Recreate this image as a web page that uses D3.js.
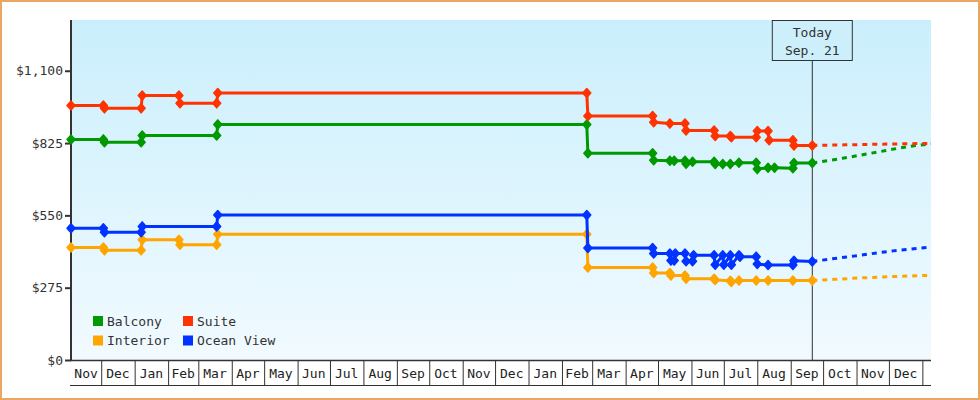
<!DOCTYPE html>
<html>
<head>
<meta charset="utf-8">
<script src="https://cdn.jsdelivr.net/npm/d3@7"></script>
<style>
  html, body { margin: 0; padding: 0; background: #fff; }
  svg { display: block; font-family: "DejaVu Sans Mono", monospace; }
</style>
</head>
<body>
<svg class="chart" width="980" height="400"></svg>
<script>
// ---- data ----
var startDate = "2012-11-03", endDate = "2015-01-09", todayDate = "2014-09-21";
var yTicks = [0, 275, 550, 825, 1100];
var seriesNames = ["Balcony", "Suite", "Interior", "Ocean View"];
var seriesColors = ["#009900", "#ff3300", "#ffa500", "#0033ff"];
var todayLabel = ["Today", "Sep. 21"];

var balcony = [
  ["2012-11-03", 839], ["2012-12-03", 839], ["2012-12-04", 828],
  ["2013-01-07", 828], ["2013-01-08", 854], ["2013-03-18", 854], ["2013-03-19", 896],
  ["2014-02-24", 896], ["2014-02-25", 786], ["2014-04-26", 786], ["2014-04-27", 760],
  ["2014-05-12", 758], ["2014-05-16", 758], ["2014-05-26", 758], ["2014-05-27", 746],
  ["2014-06-02", 754], ["2014-06-22", 754], ["2014-06-23", 745], ["2014-06-30", 745],
  ["2014-07-07", 745], ["2014-07-15", 750], ["2014-07-31", 750], ["2014-08-01", 726],
  ["2014-08-11", 731], ["2014-08-17", 731], ["2014-09-03", 729], ["2014-09-04", 749],
  ["2014-09-21", 749]
];
var suite = [
  ["2012-11-03", 968], ["2012-12-03", 968], ["2012-12-04", 957],
  ["2013-01-07", 957], ["2013-01-08", 1006], ["2013-02-11", 1006], ["2013-02-12", 976],
  ["2013-03-18", 976], ["2013-03-19", 1015], ["2014-02-24", 1015], ["2014-02-25", 928],
  ["2014-04-26", 928], ["2014-04-27", 904], ["2014-05-12", 899], ["2014-05-26", 899],
  ["2014-05-27", 873], ["2014-06-22", 873], ["2014-06-23", 852], ["2014-07-07", 852],
  ["2014-07-08", 847], ["2014-07-31", 847], ["2014-08-01", 871], ["2014-08-11", 871],
  ["2014-08-12", 836], ["2014-09-03", 836], ["2014-09-04", 816], ["2014-09-21", 816]
];
var interior = [
  ["2012-11-03", 428], ["2012-12-03", 428], ["2012-12-04", 417],
  ["2013-01-07", 417], ["2013-01-08", 457], ["2013-02-11", 457], ["2013-02-12", 438],
  ["2013-03-18", 438], ["2013-03-19", 478], ["2014-02-24", 478], ["2014-02-25", 352],
  ["2014-04-26", 352], ["2014-04-27", 331], ["2014-05-12", 331], ["2014-05-13", 321],
  ["2014-05-26", 321], ["2014-05-27", 309], ["2014-06-22", 309], ["2014-06-23", 304],
  ["2014-07-07", 301], ["2014-07-08", 297], ["2014-07-15", 302], ["2014-07-31", 302],
  ["2014-08-11", 302], ["2014-09-03", 302], ["2014-09-21", 302]
];
var oceanView = [
  ["2012-11-03", 501], ["2012-12-03", 501], ["2012-12-04", 486],
  ["2013-01-07", 486], ["2013-01-08", 508], ["2013-03-18", 508], ["2013-03-19", 551],
  ["2014-02-24", 551], ["2014-02-25", 426], ["2014-04-26", 426], ["2014-04-27", 405],
  ["2014-05-12", 405], ["2014-05-13", 378], ["2014-05-16", 378], ["2014-05-17", 405],
  ["2014-05-26", 405], ["2014-05-27", 376], ["2014-06-02", 376], ["2014-06-03", 398],
  ["2014-06-22", 398], ["2014-06-23", 362], ["2014-06-30", 398], ["2014-07-01", 362],
  ["2014-07-07", 398], ["2014-07-08", 362], ["2014-07-15", 398], ["2014-07-16", 393],
  ["2014-07-31", 393], ["2014-08-01", 365], ["2014-08-11", 361], ["2014-09-03", 361],
  ["2014-09-04", 377], ["2014-09-21", 375]
];

// forecast after today (dotted)
var balconyForecast = [["2014-09-21", 749], ["2014-10-19", 767], ["2014-11-22", 792], ["2014-12-23", 814], ["2015-01-09", 822]];
var suiteForecast = [["2014-09-21", 816], ["2014-11-15", 820], ["2015-01-09", 824]];
var interiorForecast = [["2014-09-21", 302], ["2014-11-15", 314], ["2015-01-09", 322]];
var oceanForecast = [["2014-09-21", 375], ["2014-10-29", 395], ["2014-12-05", 415], ["2015-01-09", 429]];

// ---- drawing ----
var parse = d3.timeParse("%Y-%m-%d");
var svg = d3.select("svg.chart");
var plotLeft = 71, plotRight = 931, plotTop = 20, plotBottom = 360;

var x = d3.scaleTime().domain([parse(startDate), parse(endDate)]).range([plotLeft, plotRight]);
var y = d3.scaleLinear().domain([0, 1293]).range([plotBottom, plotTop]);

var defs = svg.append("defs");
var grad = defs.append("linearGradient").attr("id", "bg").attr("x1", 0).attr("y1", 0).attr("x2", 0).attr("y2", 1);
grad.append("stop").attr("offset", "0%").attr("stop-color", "#caeffc");
grad.append("stop").attr("offset", "100%").attr("stop-color", "#f1faff");

// outer frame
svg.append("rect").attr("x", 1).attr("y", 1).attr("width", 978).attr("height", 398)
    .attr("fill", "#fff").attr("stroke", "#e8a862").attr("stroke-width", 2);

svg.append("rect").attr("x", plotLeft).attr("y", plotTop).attr("width", plotRight - plotLeft).attr("height", plotBottom - plotTop)
    .attr("fill", "url(#bg)");

// today marker
var tx = x(parse(todayDate));
svg.append("line").attr("x1", tx).attr("x2", tx).attr("y1", 60).attr("y2", plotBottom)
    .attr("stroke", "#333").attr("stroke-width", 1);
svg.append("rect").attr("x", tx - 40).attr("y", plotTop + 0.5).attr("width", 80).attr("height", 40)
    .attr("fill", "#cdeffc").attr("stroke", "#333").attr("stroke-width", 1);
svg.selectAll("text.today").data(todayLabel).enter().append("text")
    .attr("class", "today")
    .attr("x", tx).attr("y", function(d, i){ return 37 + i*18; })
    .attr("text-anchor", "middle").attr("font-size", 13).attr("fill", "#333")
    .text(function(d){ return d; });

// y axis
var yAxis = svg.append("g").attr("transform", "translate(" + plotLeft + ",0)")
    .call(d3.axisLeft(y).tickValues(yTicks).tickSize(6).tickPadding(2)
        .tickFormat(function(d){ return "$" + d3.format(",")(d); }));
yAxis.select(".domain").attr("d", "M0," + plotTop + "V" + (plotBottom + 1)).attr("stroke", "#333").attr("stroke-width", 2);
yAxis.selectAll(".tick line").attr("stroke", "#333").attr("stroke-width", 2);
yAxis.selectAll(".tick text").attr("font-family", "DejaVu Sans Mono, monospace").attr("font-size", 13).attr("fill", "#333");

// month axis boxes
var months = d3.timeMonth.range(parse(startDate), parse(endDate));
var xAxis = svg.append("g").attr("transform", "translate(0," + plotBottom + ")")
    .call(d3.axisBottom(x).tickValues(months).tickSize(25).tickFormat(""));
xAxis.select(".domain").remove();
xAxis.selectAll(".tick line").attr("stroke", "#333").attr("stroke-width", 1);
svg.append("line").attr("x1", plotLeft).attr("x2", plotRight).attr("y1", plotBottom + 0.5).attr("y2", plotBottom + 0.5)
    .attr("stroke", "#333").attr("stroke-width", 1.5);
svg.append("line").attr("x1", plotLeft - 1).attr("x2", plotRight).attr("y1", plotBottom + 25.5).attr("y2", plotBottom + 25.5)
    .attr("stroke", "#333").attr("stroke-width", 1);

var edges = [parse(startDate)].concat(months).concat([parse(endDate)]);
var cells = [];
for (var i = 0; i < edges.length - 1; i++) {
    if (x(edges[i+1]) - x(edges[i]) > 20) cells.push([edges[i], edges[i+1]]);
}
svg.append("g").selectAll("text").data(cells).enter().append("text")
    .attr("x", function(d){ return (x(d[0]) + x(d[1])) / 2; })
    .attr("y", plotBottom + 18)
    .attr("text-anchor", "middle").attr("font-size", 13).attr("fill", "#222")
    .text(function(d){ return d3.timeFormat("%b")(d[0]); });

// series
var line = d3.line().x(function(d){ return x(parse(d[0])); }).y(function(d){ return y(d[1]); });
var dashLine = d3.line().curve(d3.curveMonotoneX)
    .x(function(d){ return x(parse(d[0])); }).y(function(d){ return y(d[1]); });
var diamond = "M0,-4.5L4,0L0,4.5L-4,0Z";

var drawOrder = [
    {data: interior, fc: interiorForecast, color: seriesColors[2]},
    {data: oceanView, fc: oceanForecast, color: seriesColors[3]},
    {data: balcony, fc: balconyForecast, color: seriesColors[0]},
    {data: suite, fc: suiteForecast, color: seriesColors[1]}
];
drawOrder.forEach(function(s){
    var g = svg.append("g");
    g.append("path").attr("d", dashLine(s.fc)).attr("fill", "none")
        .attr("stroke", s.color).attr("stroke-width", 3).attr("stroke-dasharray", "5,5");
    g.append("path").attr("d", line(s.data)).attr("fill", "none")
        .attr("stroke", s.color).attr("stroke-width", 3).attr("stroke-linejoin", "round");
    g.selectAll("path.pt").data(s.data).enter().append("path")
        .attr("class", "pt")
        .attr("transform", function(d){ return "translate(" + x(parse(d[0])) + "," + y(d[1]) + ")"; })
        .attr("d", diamond)
        .attr("fill", s.color).attr("stroke", s.color).attr("stroke-width", 1.5).attr("stroke-linejoin", "round");
});

// legend
var legend = svg.append("g").selectAll("g").data(seriesNames).enter().append("g")
    .attr("transform", function(d, i){ return "translate(" + (93 + (i % 2) * 90) + "," + (316 + Math.floor(i / 2) * 19.5) + ")"; });
legend.append("rect").attr("width", 10).attr("height", 10)
    .attr("fill", function(d, i){ return seriesColors[i]; });
legend.append("text").attr("x", 14).attr("y", 9.5).attr("font-size", 13).attr("fill", "#333")
    .text(function(d){ return d; });
</script>
</body>
</html>
